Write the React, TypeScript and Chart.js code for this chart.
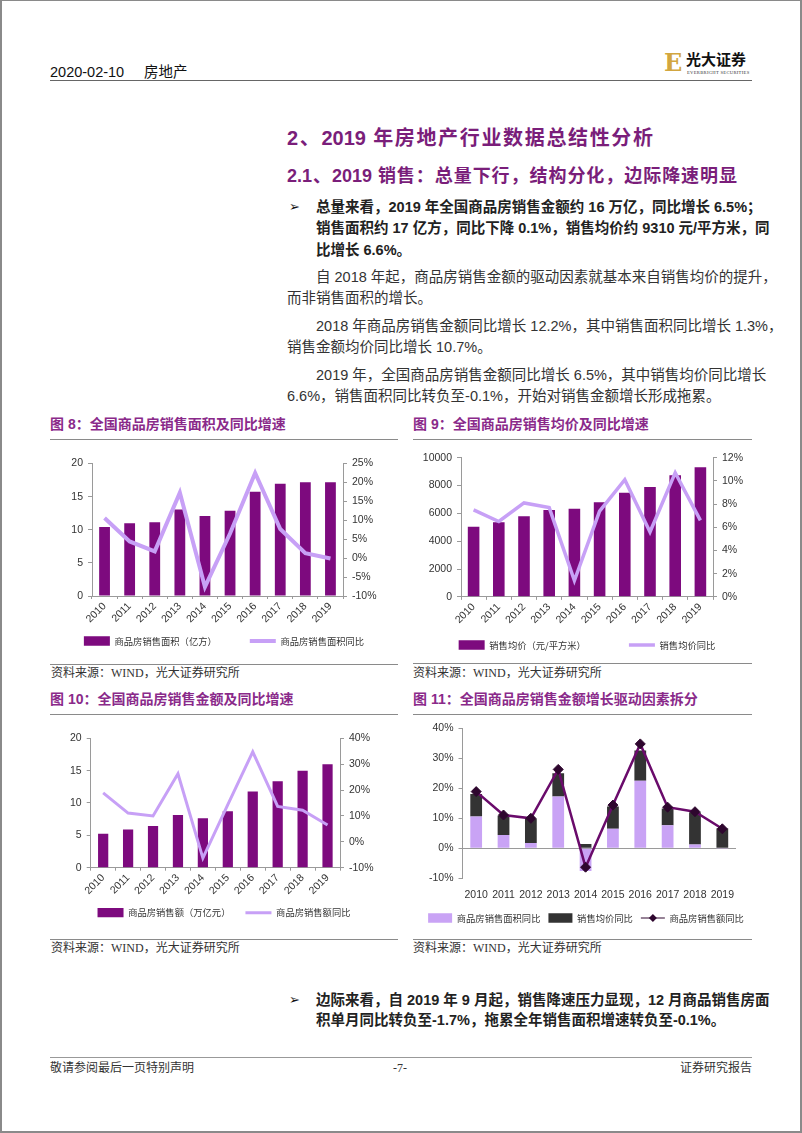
import React, { useEffect, useRef } from "react";
import { Chart, registerables } from "chart.js";

Chart.register(...registerables);

// ---------------- DATA ----------------
const years = ["2010", "2011", "2012", "2013", "2014", "2015", "2016", "2017", "2018", "2019"];
const areaValues = [10.43, 10.99, 11.13, 13.06, 12.06, 12.85, 15.73, 16.94, 17.17, 17.16];
const areaYoY = [10.6, 4.4, 1.8, 17.3, -7.6, 6.5, 22.5, 7.7, 1.3, -0.1];
const priceValues = [5032, 5357, 5791, 6237, 6324, 6793, 7476, 7892, 8737, 9310];
const priceYoY = [7.5, 6.5, 8.1, 7.7, 1.4, 7.4, 10.1, 5.6, 10.7, 6.6];
const amountValues = [5.25, 5.91, 6.46, 8.14, 7.63, 8.73, 11.76, 13.37, 15.0, 15.97];
const amountYoY = [18.9, 11.1, 10.0, 26.3, -6.3, 14.4, 34.8, 13.7, 12.2, 6.5];

const areaLabel = "商品房销售面积（亿方）";
const areaYoYLabel = "商品房销售面积同比";
const priceLabel = "销售均价（元/平方米）";
const priceYoYLabel = "销售均价同比";
const amountLabel = "商品房销售额（万亿元）";
const amountYoYLabel = "商品房销售额同比";

// ---------------- STYLE ----------------
const PURPLE = "#7d0a7e";
const LAVENDER = "#c7a0f6";
const AXIS_GRAY = "#9a9a9a";
const TICK_FONT = { family: "'Liberation Sans', 'Noto Sans CJK SC', sans-serif", size: 10.5 };
const LEGEND_FONT = { family: "'Noto Sans CJK SC', sans-serif", size: 9.3 };
const BODY = "'Liberation Sans Narrow', 'Liberation Sans', 'Noto Sans CJK SC', sans-serif";
const SANS = "'Liberation Sans', 'Noto Sans CJK SC', sans-serif";
const SERIF = "'Liberation Serif', 'Noto Sans CJK SC', serif";

const pct = (v: any) => `${v}%`;

function legendGen(chart: any) {
  const items = (Chart as any).defaults.plugins.legend.labels.generateLabels(chart);
  items.forEach((it: any) => {
    const ds = chart.data.datasets[it.datasetIndex];
    it.pointStyle = ds.type === "line" ? "line" : "rect";
  });
  return items;
}

function legendOpts(pad: number, boxW: number) {
  return {
    position: "bottom",
    labels: {
      usePointStyle: true,
      pointStyleWidth: boxW,
      boxHeight: 10,
      padding: pad,
      font: LEGEND_FONT,
      color: "#333",
      generateLabels: legendGen,
      sort: (a: any, b: any) => a.datasetIndex - b.datasetIndex,
    },
  };
}

// let x-axis labels draw below the (thin) x-axis box without clipping
const unclipX = {
  id: "unclipX",
  afterLayout(chart: any) {
    const x = chart.scales.x;
    if (x) x.bottom = chart.height;
  },
};

function yAxis(position: string, min: number, max: number, step: number, width: number, fmt: (v: any) => string) {
  return {
    type: "linear",
    position,
    min,
    max,
    ticks: { stepSize: step, color: "#333", font: TICK_FONT, padding: 5, callback: (v: any) => fmt(v) },
    grid: { display: true, drawOnChartArea: false, drawTicks: true, tickLength: 4, color: AXIS_GRAY },
    border: { display: true, color: AXIS_GRAY },
    afterFit: (s: any) => {
      s.width = width;
    },
  };
}

type Box = {
  W: number;
  H: number;
  leftW: number;
  rightW: number;
  top: number;
  areaBottom: number;
  legendCenter: number;
  legendPad: number;
};

function boxCalc(b: Box) {
  const fs = LEGEND_FONT.size;
  const pb = b.H - 10 - fs / 2 - b.legendCenter;
  const legendH = fs + b.legendPad + 10;
  const xH = Math.max(0.5, b.H - pb - legendH - b.areaBottom);
  return { pb, xH };
}

function dualConfig(o: {
  box: Box;
  barData: number[];
  barLabel: string;
  barPct: number;
  lineData: number[];
  lineLabel: string;
  lineWidth: number;
  y: [number, number, number];
  y1: [number, number, number];
}) {
  const { pb, xH } = boxCalc(o.box);
  return {
    data: {
      labels: years,
      datasets: [
        {
          type: "bar",
          label: o.barLabel,
          data: o.barData,
          backgroundColor: PURPLE,
          borderWidth: 0,
          barPercentage: o.barPct,
          categoryPercentage: 1,
          yAxisID: "y",
          order: 2,
        },
        {
          type: "line",
          label: o.lineLabel,
          data: o.lineData,
          borderColor: LAVENDER,
          backgroundColor: LAVENDER,
          borderWidth: o.lineWidth,
          pointRadius: 0,
          tension: 0,
          yAxisID: "y1",
          order: 1,
        },
      ],
    },
    options: {
      responsive: false,
      animation: false,
      devicePixelRatio: 1,
      layout: { padding: { top: o.box.top, bottom: pb, left: 0, right: 0 } },
      plugins: { legend: legendOpts(o.box.legendPad, 26), tooltip: { enabled: false } },
      scales: {
        x: {
          type: "category",
          offset: true,
          grid: { display: true, drawOnChartArea: false, offset: true, tickLength: 3, color: AXIS_GRAY },
          border: { display: true, color: AXIS_GRAY },
          ticks: { autoSkip: false, maxRotation: 45, minRotation: 45, padding: 1, font: TICK_FONT, color: "#333" },
          afterFit: (s: any) => {
            s.height = xH;
          },
        },
        y: yAxis("left", o.y[0], o.y[1], o.y[2], o.box.leftW, (v) => String(v)),
        y1: yAxis("right", o.y1[0], o.y1[1], o.y1[2], o.box.rightW, pct),
      },
    },
    plugins: [unclipX],
  };
}

const diamondLegend = {
  id: "diamondLegend",
  afterDraw(chart: any) {
    const lg = chart.legend;
    if (!lg || !lg.legendHitBoxes || !lg.legendHitBoxes[2]) return;
    const hb = lg.legendHitBoxes[2];
    const cx = hb.left + 12;
    const cy = hb.top + LEGEND_FONT.size / 2;
    const ctx = chart.ctx;
    const r = 4;
    ctx.save();
    ctx.fillStyle = "#2e062e";
    ctx.beginPath();
    ctx.moveTo(cx, cy - r);
    ctx.lineTo(cx + r, cy);
    ctx.lineTo(cx, cy + r);
    ctx.lineTo(cx - r, cy);
    ctx.closePath();
    ctx.fill();
    ctx.restore();
  },
};

function stackConfig(box: Box) {
  const { pb, xH } = boxCalc(box);
  return {
    data: {
      labels: years,
      datasets: [
        {
          type: "bar",
          label: areaYoYLabel,
          data: areaYoY,
          backgroundColor: "#c9a3f5",
          borderWidth: 0,
          barPercentage: 0.43,
          categoryPercentage: 1,
          stack: "drivers",
          order: 2,
        },
        {
          type: "bar",
          label: priceYoYLabel,
          data: priceYoY,
          backgroundColor: "#333333",
          borderWidth: 0,
          barPercentage: 0.43,
          categoryPercentage: 1,
          stack: "drivers",
          order: 2,
        },
        {
          type: "line",
          label: amountYoYLabel,
          data: amountYoY,
          borderColor: "#6a0b6b",
          backgroundColor: "#2e062e",
          borderWidth: 2.5,
          pointStyle: "rectRot",
          pointRadius: 5,
          pointBackgroundColor: "#2e062e",
          pointBorderColor: "#2e062e",
          pointBorderWidth: 1,
          tension: 0,
          stack: "total",
          order: 0,
        },
      ],
    },
    options: {
      responsive: false,
      animation: false,
      devicePixelRatio: 1,
      layout: { padding: { top: box.top, bottom: pb, left: 0, right: 0 } },
      plugins: { legend: legendOpts(box.legendPad, 24), tooltip: { enabled: false } },
      scales: {
        x: {
          type: "category",
          stacked: true,
          offset: true,
          grid: { display: false },
          border: { display: false },
          ticks: { autoSkip: false, maxRotation: 0, minRotation: 0, padding: 3, font: TICK_FONT, color: "#333" },
          afterFit: (s: any) => {
            s.height = xH;
          },
        },
        y: {
          type: "linear",
          stacked: true,
          min: -10,
          max: 40,
          ticks: { stepSize: 10, color: "#333", font: TICK_FONT, padding: 5, callback: (v: any) => pct(v) },
          grid: {
            display: true,
            drawOnChartArea: true,
            drawTicks: true,
            tickLength: 4,
            tickColor: AXIS_GRAY,
            color: (c: any) => (c.tick && c.tick.value === 0 ? AXIS_GRAY : "rgba(0,0,0,0)"),
          },
          border: { display: true, color: AXIS_GRAY },
          afterFit: (s: any) => {
            s.width = box.leftW;
          },
        },
        // empty spacer on the right so the legend keeps the full canvas width
        ySpacer: {
          type: "linear",
          position: "right",
          display: true,
          grid: { display: false },
          border: { display: false },
          ticks: { display: false },
          afterFit: (s: any) => {
            s.width = box.rightW;
          },
        },
      },
    },
    plugins: [diamondLegend, unclipX],
  };
}

// ---------------- COMPONENTS ----------------
function ChartCanvas({ left, top, width, height, build }: any) {
  const ref = useRef<HTMLCanvasElement>(null);
  useEffect(() => {
    const chart = new Chart(ref.current as HTMLCanvasElement, build() as any);
    return () => chart.destroy();
  }, []);
  return (
    <canvas
      ref={ref}
      width={width}
      height={height}
      style={{ position: "absolute", left, top, width, height }}
    />
  );
}

function Txt({ x, y, w, size, text, bold, color, family, justify, align }: any) {
  const lh = size * 1.4;
  return (
    <div
      style={{
        position: "absolute",
        left: x,
        top: y - lh / 2,
        width: w,
        height: lh,
        lineHeight: `${lh}px`,
        fontSize: size,
        fontWeight: bold ? 700 : 400,
        color: color || "#222",
        fontFamily: family || BODY,
        whiteSpace: "nowrap",
        textAlign: justify ? "justify" : align || "left",
        textAlignLast: justify ? "justify" : undefined,
      } as any}
    >
      {text}
    </div>
  );
}

function Rule({ x1, x2, y, color }: any) {
  return (
    <div
      style={{ position: "absolute", left: x1, top: y, width: x2 - x1, height: 1, background: color || "#8a8a8a" }}
    />
  );
}

const TITLE_COLOR = "#8a2a8a";
const HEAD_COLOR = "#7a1e7a";

export default function App() {
  const boxA: Box = { W: 348, H: 207, leftW: 42, rightW: 55, top: 13.5, areaBottom: 146, legendCenter: 191, legendPad: 33 };
  const boxB: Box = { W: 350, H: 216, leftW: 49, rightW: 49, top: 12.7, areaBottom: 154.3, legendCenter: 200, legendPad: 43 };
  const boxC: Box = { W: 348, H: 208, leftW: 40.7, rightW: 58, top: 18.3, areaBottom: 147.7, legendCenter: 192.7, legendPad: 15 };
  const boxD: Box = { W: 356, H: 218, leftW: 54.5, rightW: 28, top: 13.3, areaBottom: 163.3, legendCenter: 203, legendPad: 8 };

  return (
    <div
      style={{
        position: "absolute",
        left: 0,
        top: 0,
        width: 802,
        height: 1133,
        overflow: "hidden",
        background: "#fff",
      }}
    >
      {/* page border */}
      <div
        style={{
          position: "absolute",
          left: 0,
          top: 0,
          width: 802,
          height: 1133,
          boxSizing: "border-box",
          borderLeft: "2px solid #8a8a8a",
          borderRight: "2px solid #8a8a8a",
          borderTop: "1px solid #8a8a8a",
          borderBottom: "2px solid #8a8a8a",
        }}
      />

      {/* header */}
      <Txt x={50} y={72} size={14.5} text="2020-02-10" family={SANS} color="#111" />
      <Txt x={144} y={72} size={14.5} text="房地产" family={SANS} color="#111" />
      <div
        style={{
          position: "absolute",
          left: 664,
          top: 51,
          fontFamily: "'DejaVu Serif', serif",
          fontWeight: 700,
          fontSize: 24,
          lineHeight: "24px",
          color: "#d2a640",
        }}
      >
        E
      </div>
      <Txt x={686} y={60} size={15} text="光大证券" bold family={SERIF} color="#111" />
      <div
        style={{
          position: "absolute",
          left: 687,
          top: 70,
          fontFamily: SERIF,
          fontSize: 4.6,
          lineHeight: "5px",
          letterSpacing: 0.3,
          color: "#333",
          whiteSpace: "nowrap",
        }}
      >
        EVERBRIGHT SECURITIES
      </div>
      <Rule x1={50} x2={752} y={80} color="#666" />

      {/* headings */}
      <Txt x={287} y={138} w={366} size={20} bold justify text="2、2019 年房地产行业数据总结性分析" color={HEAD_COLOR} family={SANS} />
      <Txt x={287} y={177} w={450} size={18} bold justify text="2.1、2019 销售：总量下行，结构分化，边际降速明显" color={HEAD_COLOR} family={SANS} />

      {/* bullet 1 */}
      <Txt x={289} y={207} size={13} text="➢" family="'DejaVu Sans', sans-serif" color="#111" />
      <Txt x={316} y={207} w={436} size={14.5} bold justify text="总量来看，2019 年全国商品房销售金额约 16 万亿，同比增长 6.5%；" />
      <Txt x={316} y={228.5} w={436} size={14.5} bold justify text="销售面积约 17 亿方，同比下降 0.1%，销售均价约 9310 元/平方米，同" />
      <Txt x={316} y={250} size={14.5} bold text="比增长 6.6%。" />

      <Txt x={316} y={277.5} w={436} size={14.5} justify color="#333" text="自 2018 年起，商品房销售金额的驱动因素就基本来自销售均价的提升，" />
      <Txt x={287} y={298.5} size={14.5} color="#333" text="而非销售面积的增长。" />

      <Txt x={316} y={326.5} w={436} size={14.5} justify color="#333" text="2018 年商品房销售金额同比增长 12.2%，其中销售面积同比增长 1.3%，" />
      <Txt x={287} y={347} size={14.5} color="#333" text="销售金额均价同比增长 10.7%。" />

      <Txt x={316} y={375} w={436} size={14.5} justify color="#333" text="2019 年，全国商品房销售金额同比增长 6.5%，其中销售均价同比增长" />
      <Txt x={287} y={396} size={14.5} color="#333" text="6.6%，销售面积同比转负至-0.1%，开始对销售金额增长形成拖累。" />

      {/* chart titles */}
      <Txt x={50} y={425} size={14} bold text="图 8：全国商品房销售面积及同比增速" color={TITLE_COLOR} family={SANS} />
      <Txt x={413} y={425} size={14} bold text="图 9：全国商品房销售均价及同比增速" color={TITLE_COLOR} family={SANS} />
      <Rule x1={50} x2={398} y={439} />
      <Rule x1={413} x2={752} y={439} />

      <ChartCanvas
        left={50}
        top={450}
        width={boxA.W}
        height={boxA.H}
        build={() =>
          dualConfig({
            box: boxA,
            barData: areaValues,
            barLabel: areaLabel,
            barPct: 0.43,
            lineData: areaYoY,
            lineLabel: areaYoYLabel,
            lineWidth: 4,
            y: [0, 20, 5],
            y1: [-10, 25, 5],
          })
        }
      />
      <ChartCanvas
        left={412}
        top={445}
        width={boxB.W}
        height={boxB.H}
        build={() =>
          dualConfig({
            box: boxB,
            barData: priceValues,
            barLabel: priceLabel,
            barPct: 0.46,
            lineData: priceYoY,
            lineLabel: priceYoYLabel,
            lineWidth: 3.5,
            y: [0, 10000, 2000],
            y1: [0, 12, 2],
          })
        }
      />

      <Rule x1={50} x2={398} y={664} />
      <Rule x1={413} x2={752} y={663} />
      <Txt x={51} y={673} size={12} text="资料来源：WIND，光大证券研究所" family={SERIF} color="#333" />
      <Txt x={413} y={673} size={12} text="资料来源：WIND，光大证券研究所" family={SERIF} color="#333" />

      <Txt x={50} y={700} size={14} bold text="图 10：全国商品房销售金额及同比增速" color={TITLE_COLOR} family={SANS} />
      <Txt x={413} y={700} size={14} bold text="图 11：全国商品房销售金额增长驱动因素拆分" color={TITLE_COLOR} family={SANS} />
      <Rule x1={50} x2={398} y={714} />
      <Rule x1={413} x2={752} y={714} />

      <ChartCanvas
        left={50}
        top={720}
        width={boxC.W}
        height={boxC.H}
        build={() =>
          dualConfig({
            box: boxC,
            barData: amountValues,
            barLabel: amountLabel,
            barPct: 0.41,
            lineData: amountYoY,
            lineLabel: amountYoYLabel,
            lineWidth: 3,
            y: [0, 20, 5],
            y1: [-10, 40, 10],
          })
        }
      />
      <ChartCanvas left={408} top={715} width={boxD.W} height={boxD.H} build={() => stackConfig(boxD)} />

      <Rule x1={50} x2={398} y={939} />
      <Rule x1={413} x2={752} y={939} />
      <Txt x={51} y={948} size={12} text="资料来源：WIND，光大证券研究所" family={SERIF} color="#333" />
      <Txt x={413} y={948} size={12} text="资料来源：WIND，光大证券研究所" family={SERIF} color="#333" />

      {/* bullet 2 */}
      <Txt x={289} y={1000} size={13} text="➢" family="'DejaVu Sans', sans-serif" color="#111" />
      <Txt x={316} y={1000} w={436} size={14.5} bold justify text="边际来看，自 2019 年 9 月起，销售降速压力显现，12 月商品销售房面" />
      <Txt x={316} y={1020} size={14.5} bold text="积单月同比转负至-1.7%，拖累全年销售面积增速转负至-0.1%。" />

      {/* footer */}
      <Rule x1={50} x2={752} y={1057} color="#999" />
      <Txt x={50} y={1068} size={12} text="敬请参阅最后一页特别声明" family={SERIF} color="#333" />
      <Txt x={370} y={1068} w={60} size={12} align="center" text="-7-" family={SERIF} color="#333" />
      <Txt x={652} y={1068} w={100} size={12} align="right" text="证券研究报告" family={SERIF} color="#333" />
    </div>
  );
}
